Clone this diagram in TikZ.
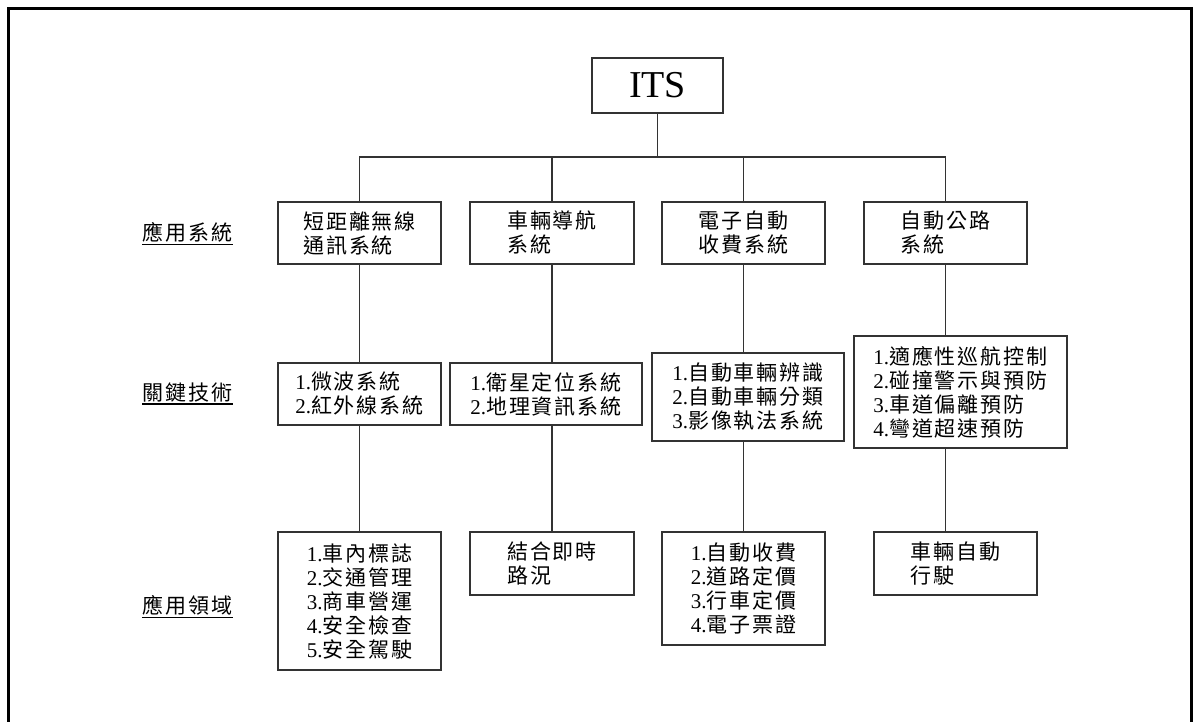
\documentclass[tikz,border=0pt]{standalone}
\usepackage{fontspec}
\setmainfont{Liberation Serif}
\newfontfamily\cjk[LetterSpace=9]{Noto Sans CJK TC}
\newcommand\numb[1]{{\rmfamily #1}}
\begin{document}
\begin{tikzpicture}[x=1pt,y=-1pt,
  frame/.style={line width=3pt, draw=black},
  box/.style={draw=black!80, line width=1.4pt, inner sep=0pt, align=left,
    font=\fontsize{21}{24}\selectfont\cjk},
  link/.style={draw=black!80, line width=1.3pt},
  lbl/.style={inner sep=0pt, font=\fontsize{21}{24}\selectfont\cjk},
  uline/.style={draw=black, line width=1.2pt}]
\useasboundingbox (0,0) rectangle (1194,722);
\draw[frame] (8.5,723) -- (8.5,8.5) -- (1191.5,8.5) -- (1191.5,723);

\node[box, minimum width=131, minimum height=55, font=\fontsize{38}{40}\selectfont] (ITS) at (657.5,85.5) {ITS};

% row 1
\node[box, minimum width=163, minimum height=62] (A1) at (359.5,233) {短距離無線\\通訊系統};
\node[box, minimum width=164, minimum height=62] (A2) at (552,233) {車輛導航\\系統};
\node[box, minimum width=163, minimum height=62] (A3) at (743.5,233) {電子自動\\收費系統};
\node[box, minimum width=163, minimum height=62] (A4) at (945.5,233) {自動公路\\系統};

% row 2
\node[box, minimum width=163, minimum height=62] (B1) at (359.5,394) {\numb{1.}微波系統\\\numb{2.}紅外線系統};
\node[box, minimum width=192, minimum height=62] (B2) at (546,394) {\numb{1.}衛星定位系統\\\numb{2.}地理資訊系統};
\node[box, minimum width=192, minimum height=88] (B3) at (748,397) {\numb{1.}自動車輛辨識\\\numb{2.}自動車輛分類\\\numb{3.}影像執法系統};
\node[box, minimum width=213, minimum height=112] (B4) at (960.5,392) {\numb{1.}適應性巡航控制\\\numb{2.}碰撞警示與預防\\\numb{3.}車道偏離預防\\\numb{4.}彎道超速預防};

% row 3
\node[box, minimum width=163, minimum height=138] (C1) at (359.5,601) {\numb{1.}車內標誌\\\numb{2.}交通管理\\\numb{3.}商車營運\\\numb{4.}安全檢查\\\numb{5.}安全駕駛};
\node[box, minimum width=164, minimum height=63] (C2) at (552,563.5) {結合即時\\路況};
\node[box, minimum width=163, minimum height=113] (C3) at (743.5,588.5) {\numb{1.}自動收費\\\numb{2.}道路定價\\\numb{3.}行車定價\\\numb{4.}電子票證};
\node[box, minimum width=163, minimum height=63] (C4) at (955.5,563.5) {車輛自動\\行駛};

% labels
\node[lbl] (L1) at (187.5,232) {應用系統};
\node[lbl] (L2) at (187.5,392) {關鍵技術};
\node[lbl] (L3) at (187.5,605) {應用領域};
\draw[uline] ([yshift=-2pt]L1.south west) -- ([yshift=-2pt]L1.south east);
\draw[uline] ([yshift=-2pt]L2.south west) -- ([yshift=-2pt]L2.south east);
\draw[uline] ([yshift=-2pt]L3.south west) -- ([yshift=-2pt]L3.south east);

% connectors
\coordinate (bus) at (657.5,157);
\draw[link] (ITS.south) -- (ITS.south |- bus);
\draw[link] (A1.north) -- (A1.north |- bus) -- (A4.north |- bus) -- (A4.north);
\draw[link] (A2.north |- bus) -- (A2.north);
\draw[link] (A3.north |- bus) -- (A3.north);

\draw[link] (A1.south) -- (B1.north);
\draw[link] (B1.south) -- (C1.north);
\draw[link] (A2.south) -- (A2.south |- B2.north);
\draw[link] (A2.south |- B2.south) -- (A2.south |- C2.north);
\draw[link] (A3.south) -- (A3.south |- B3.north);
\draw[link] (A3.south |- B3.south) -- (A3.south |- C3.north);
\draw[link] (A4.south) -- (A4.south |- B4.north);
\draw[link] (A4.south |- B4.south) -- (A4.south |- C4.north);
\end{tikzpicture}
\end{document}
